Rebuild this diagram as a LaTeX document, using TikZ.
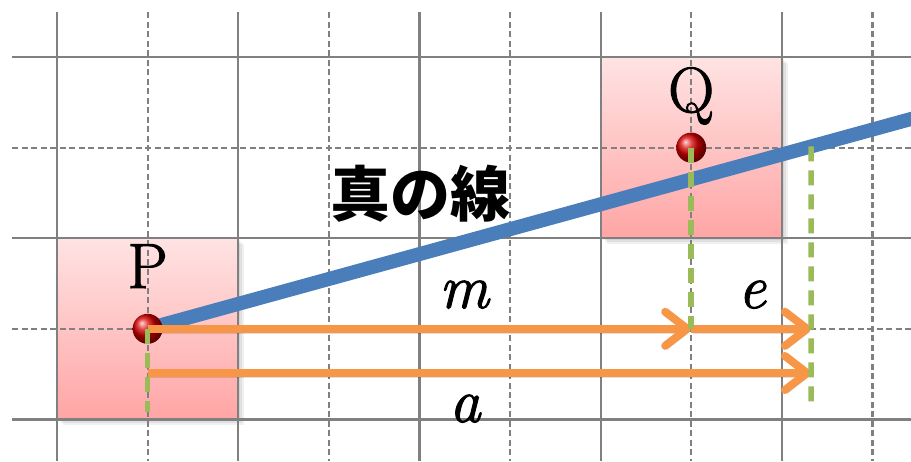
\documentclass[tikz,border=0pt]{standalone}
\usepackage{fontspec}
\newfontfamily\serifff{Latin Modern Roman}[FakeBold=1.6]
\newfontfamily\jpfont{Noto Sans CJK JP}
\usetikzlibrary{arrows.meta,calc}
\definecolor{gridgray}{HTML}{808080}
\definecolor{bluel}{HTML}{4A7EBB}
\definecolor{orangel}{HTML}{F79646}
\definecolor{greenl}{HTML}{9BBB59}
\definecolor{pinktop}{HTML}{FFE3E3}
\definecolor{pinkbot}{HTML}{FFA5A5}
\begin{document}
\begin{tikzpicture}[x=1pt,y=-1pt,
  gridsolid/.style={draw=gridgray,line width=2.2pt},
  griddash/.style={draw=gridgray,line width=2.2pt,dash pattern=on 6pt off 3.5pt},
  pinkbox/.style={top color=pinktop,bottom color=pinkbot,draw=none},
  boxshadow/.style={fill=black,opacity=.06},
  lineshadow/.style={preaction={draw=black,draw opacity=.12,transform canvas={shift={(1.5pt,-4pt)}}}},
  blueline/.style={draw=bluel,line width=14pt,lineshadow},
  arr/.style={draw=orangel,line width=8pt,lineshadow,-{Straight Barb[length=22pt,width=34pt,round]}},
  gdash/.style={draw=greenl,line width=5.5pt,dash pattern=on 15pt off 9pt},
  ballnode/.style={circle,minimum size=30pt,inner sep=0pt,shading=ball,ball color=red!85!black},
  lbl/.style={inner sep=0pt,font=\serifff\fontsize{64}{70}\selectfont},
  ilbl/.style={inner sep=0pt,font=\serifff\fontsize{62}{68}\selectfont\itshape},
  jplbl/.style={inner sep=0pt,font=\jpfont\bfseries\fontsize{60}{66}\selectfont}
]
\useasboundingbox (0,0) rectangle (911,461);
\fill[white] (0,0) rectangle (911,461);
% pink boxes with soft shadows
\foreach \d in {2,4,6} {
  \fill[boxshadow] (57+\d,238.2+\d) rectangle (238.2+\d,419.4+\d);
  \fill[boxshadow] (600.6+\d,57+\d) rectangle (781.8+\d,238.2+\d);
}
\shade[pinkbox] (57,238.2) rectangle (238.2,419.4);
\shade[pinkbox] (600.6,57) rectangle (781.8,238.2);
% grid
\foreach \x in {57,238.2,419.4,600.6,781.8} \draw[gridsolid] (\x,12) -- (\x,461);
\foreach \x in {147.6,328.8,510,691.2,872.4} \draw[griddash] (\x,12) -- (\x,461);
\foreach \y in {57,238.2,419.4} \draw[gridsolid] (12,\y) -- (911,\y);
\foreach \y in {147.6,328.8} \draw[griddash] (12,\y) -- (911,\y);
% coordinates
\coordinate (Pc) at (147.6,328.8);
\coordinate (Qc) at (691.2,147.6);
\coordinate (Bend) at (920,116.5);
\coordinate (M) at (691.2,328.8);
\coordinate (E) at (811,328.8);
\coordinate (A0) at (147.6,373);
\coordinate (A1) at (811,373);
\coordinate (Et) at ($(Pc)!{(811-147.6)/(920-147.6)}!(Bend)$);
\coordinate (Pg) at (147.6,412);
\coordinate (Eg) at (811,403);
% true line
\draw[blueline] (Pc) -- (Bend);
% points
\node[ballnode] (P) at (Pc) {};
\node[ballnode] (Q) at (Qc) {};
% arrows
\draw[arr] (P.center) -- (M);
\draw[arr] (M) -- (E);
\draw[arr] (A0) -- (A1);
% green dashed
\draw[gdash] (P.center) -- (Pg);
\draw[gdash] (Q.center) -- (M);
\draw[gdash] (Et) -- (Eg);
% labels
\node[lbl,anchor=base] (Plbl) at (147.6,288) {P};
\node[lbl,anchor=base] (Qlbl) at (691.2,112) {Q};
\node[ilbl,anchor=base] (mlbl) at (464,308) {m};
\node[ilbl,anchor=base] (elbl) at (752,308) {e};
\node[ilbl,anchor=base] (albl) at (465,422) {a};
\node[jplbl] (jp) at (420,194) {真の線};
\end{tikzpicture}
\end{document}
